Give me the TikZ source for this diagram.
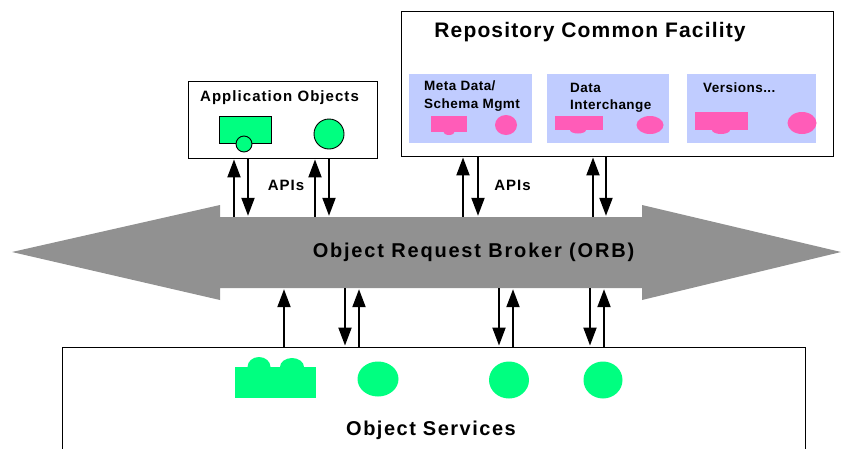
\documentclass[tikz,border=0pt]{standalone}
\usepackage{fontspec}
\setmainfont{Liberation Sans}
\usepackage{tikz}
\usetikzlibrary{arrows.meta,shapes.geometric}

\definecolor{orbgray}{HTML}{919191}
\definecolor{objgreen}{HTML}{00FF80}
\definecolor{objpink}{HTML}{FF5CB8}
\definecolor{facblue}{HTML}{C0CCFF}

\begin{document}
\begin{tikzpicture}[x=1pt,y=-1pt]
	
	\tikzset{box/.style = {shape=rectangle,draw,line width=0.9pt,fill=white,inner sep=0pt}}
	\tikzset{panel/.style = {shape=rectangle,fill=facblue,inner sep=0pt}}
	\tikzset{block/.style = {shape=rectangle,inner sep=0pt}}
	\tikzset{blob/.style = {shape=ellipse,inner sep=0pt}}
	\tikzset{edge/.style = {line width=2pt,-{Triangle[length=18pt,width=13pt]},shorten >=1pt}}
	\tikzset{title/.style = {font=\fontsize{20}{22}\bfseries\addfontfeature{LetterSpace=9},inner sep=0pt}}
	\tikzset{label/.style = {font=\fontsize{15}{17}\bfseries\addfontfeature{LetterSpace=7},inner sep=0pt}}
	\tikzset{small/.style = {font=\fontsize{13.5}{15}\bfseries\addfontfeature{LetterSpace=3.5},inner sep=0pt,anchor=west}}
	
	\clip (0,0) rectangle (841,448);
	
	\fill[orbgray] (12,252) -- (220,205) -- (220,217) -- (642,217) -- (642,205) -- (841,252)
		-- (642,300) -- (642,288) -- (220,288) -- (220,300) -- cycle;
	\node[block,minimum width=422pt,minimum height=71pt] (orb) at (431,252.5) {};
	
	\node[box,minimum width=189pt,minimum height=77pt] (app) at (282.5,119.5) {};
	\node[box,minimum width=432pt,minimum height=145pt] (repo) at (617,83.5) {};
	\node[box,minimum width=743pt,minimum height=140pt] (services) at (433.5,417) {};
	
	\node[panel,minimum width=123pt,minimum height=69pt] (meta) at (470.5,108.5) {};
	\node[panel,minimum width=122pt,minimum height=69pt] (inter) at (608,108.5) {};
	\node[panel,minimum width=129pt,minimum height=69pt] (vers) at (751.5,108.5) {};
	
	% application objects
	\node[block,draw,line width=0.9pt,fill=objgreen,minimum width=52pt,minimum height=27pt] (g1) at (245,129.5) {};
	\node[blob,draw,line width=0.9pt,fill=objgreen,minimum width=16pt,minimum height=16pt] (g2) at (244,144) {};
	\node[blob,draw,line width=0.9pt,fill=objgreen,minimum width=30pt,minimum height=30pt] (g3) at (329,134) {};
	
	% repository shapes
	\node[blob,fill=objpink,minimum width=12pt,minimum height=8pt] (p1b) at (449,131) {};
	\node[block,fill=objpink,minimum width=36pt,minimum height=16pt] (p1) at (449,124) {};
	\node[blob,fill=objpink,minimum width=22pt,minimum height=20pt] (p2) at (506,125) {};
	\node[blob,fill=objpink,minimum width=16pt,minimum height=7pt] (p3b) at (578,130) {};
	\node[block,fill=objpink,minimum width=48pt,minimum height=14pt] (p3) at (579,123) {};
	\node[blob,fill=objpink,minimum width=27pt,minimum height=18pt] (p4) at (650,125) {};
	\node[blob,fill=objpink,minimum width=18pt,minimum height=8pt] (p5b) at (721,130) {};
	\node[block,fill=objpink,minimum width=53pt,minimum height=18pt] (p5) at (721.5,121) {};
	\node[blob,fill=objpink,minimum width=29pt,minimum height=22pt] (p6) at (802,123) {};
	
	% services shapes
	\node[blob,fill=objgreen,minimum width=23pt,minimum height=20pt] (s1a) at (259,367) {};
	\node[blob,fill=objgreen,minimum width=24pt,minimum height=18pt] (s1b) at (292,367) {};
	\node[block,fill=objgreen,minimum width=81pt,minimum height=31pt] (s1) at (275.5,382.5) {};
	\node[blob,fill=objgreen,minimum width=41pt,minimum height=35pt] (s2) at (378,379) {};
	\node[blob,fill=objgreen,minimum width=40pt,minimum height=37pt] (s3) at (509,380) {};
	\node[blob,fill=objgreen,minimum width=39pt,minimum height=37pt] (s4) at (603,380) {};
	
	\node[title,font=\fontsize{21}{22}\bfseries\addfontfeature{LetterSpace=5.5}] (repotitle) at (590,32) {Repository Common Facility};
	\node[label] (apptitle) at (279.5,98) {Application Objects};
	\node[title] (orbtitle) at (473.5,252) {Object Request Broker (ORB)};
	\node[title,font=\fontsize{20}{22}\bfseries\addfontfeature{LetterSpace=7.5}] (svctitle) at (431,430) {Object Services};
	\node[label] (api1) at (286,185) {APIs};
	\node[label] (api2) at (512.5,185) {APIs};
	\node[small] (t1) at (424,85.5) {Meta Data/};
	\node[small] (t2) at (424,105.5) {Schema Mgmt};
	\node[small] (t3) at (570,87.5) {Data};
	\node[small] (t4) at (570,106.5) {Interchange};
	\node[small] (t5) at (703,87.5) {Versions...};
	
	\draw[edge] (234,0 |- orb.north) to (234,0 |- app.south);
	\draw[edge] (248,0 |- app.south) to (248,0 |- orb.north);
	\draw[edge] (315,0 |- orb.north) to (315,0 |- app.south);
	\draw[edge] (329,0 |- app.south) to (329,0 |- orb.north);
	\draw[edge] (463,0 |- orb.north) to (463,0 |- repo.south);
	\draw[edge] (478,0 |- repo.south) to (478,0 |- orb.north);
	\draw[edge] (593,0 |- orb.north) to (593,0 |- repo.south);
	\draw[edge] (606,0 |- repo.south) to (606,0 |- orb.north);
	
	\draw[edge] (284,0 |- services.north) to (284,0 |- orb.south);
	\draw[edge] (345,0 |- orb.south) to (345,0 |- services.north);
	\draw[edge] (359,0 |- services.north) to (359,0 |- orb.south);
	\draw[edge] (499,0 |- orb.south) to (499,0 |- services.north);
	\draw[edge] (513,0 |- services.north) to (513,0 |- orb.south);
	\draw[edge] (590,0 |- orb.south) to (590,0 |- services.north);
	\draw[edge] (604,0 |- services.north) to (604,0 |- orb.south);
	\end{tikzpicture}
\end{document}
